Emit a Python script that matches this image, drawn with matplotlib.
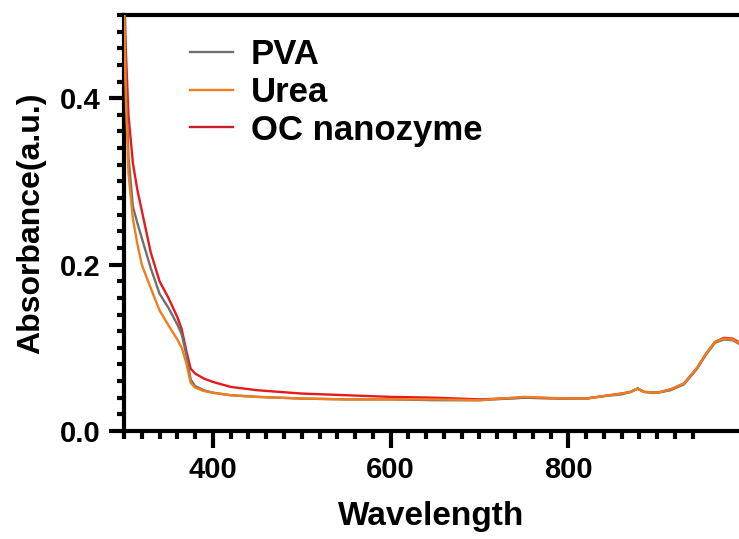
import matplotlib
matplotlib.use("Agg")
import matplotlib.pyplot as plt
from matplotlib.ticker import MultipleLocator, FixedLocator

plt.rcParams['font.family'] = ['Liberation Sans', 'DejaVu Sans']
plt.rcParams['font.weight'] = 'bold'

wavelength = [300, 302, 305, 310, 315, 320, 330, 340, 350, 360, 365, 370, 375, 380, 390,
              400, 420, 450, 500, 550, 600, 650, 700, 750, 800, 820, 840, 860, 870, 878,
              885, 900, 915, 930, 945, 955, 965, 975, 985, 995]

pva = [0.52, 0.42, 0.33, 0.27, 0.25, 0.232, 0.196, 0.165, 0.148, 0.128, 0.116, 0.092, 0.062, 0.054, 0.049,
       0.046, 0.043, 0.041, 0.039, 0.038, 0.038, 0.037, 0.037, 0.040, 0.039, 0.039, 0.042, 0.044, 0.047, 0.051,
       0.047, 0.046, 0.049, 0.056, 0.075, 0.092, 0.106, 0.110, 0.109, 0.103]

urea = [0.52, 0.40, 0.31, 0.255, 0.225, 0.200, 0.172, 0.145, 0.127, 0.110, 0.100, 0.082, 0.058, 0.052, 0.048,
        0.046, 0.043, 0.041, 0.039, 0.038, 0.038, 0.038, 0.037, 0.041, 0.039, 0.039, 0.042, 0.045, 0.047, 0.051,
        0.047, 0.046, 0.050, 0.057, 0.076, 0.093, 0.107, 0.111, 0.110, 0.104]

oc_nanozyme = [0.53, 0.46, 0.38, 0.322, 0.29, 0.265, 0.215, 0.180, 0.160, 0.137, 0.122, 0.097, 0.075, 0.069, 0.063,
               0.059, 0.053, 0.049, 0.045, 0.043, 0.041, 0.040, 0.038, 0.040, 0.039, 0.039, 0.042, 0.045, 0.047, 0.051,
               0.047, 0.046, 0.050, 0.057, 0.076, 0.093, 0.107, 0.112, 0.111, 0.105]

series_labels = ['PVA', 'Urea', 'OC nanozyme']
colors = ['#707070', '#f07d1e', '#e41a1c']
zorders = [3, 4, 2]

W, H = 739, 539
fig = plt.figure(figsize=(W / 100, H / 100), dpi=100)
ax = fig.add_axes([124 / W, (H - 431) / H, (W - 124) / W, (431 - 15) / H])

for y, lab, c, z in zip([pva, urea, oc_nanozyme], series_labels, colors, zorders):
    ax.plot(wavelength, y, color=c, lw=1.7, label=lab, zorder=z)

ax.set_xlim(300, 992)
ax.set_ylim(0, 0.5)

ax.set_xticks([400, 600, 800])
ax.xaxis.set_minor_locator(FixedLocator([x for x in range(300, 941, 20) if x % 200 != 0]))
ax.set_yticks([0.0, 0.2, 0.4])
ax.set_yticklabels(['0.0', '0.2', '0.4'])
ax.yaxis.set_minor_locator(MultipleLocator(0.02))

for s in ['left', 'bottom', 'top']:
    ax.spines[s].set_linewidth(3)
ax.spines['right'].set_visible(False)

ax.tick_params(which='major', length=11, width=3, labelsize=21, pad=6)
ax.tick_params(which='minor', length=5, width=3)
ax.tick_params(axis='x', which='minor', length=6)
ax.tick_params(axis='x', which='major', length=12)

ax.set_xlabel('Wavelength', fontsize=24, fontweight='bold', labelpad=12)
ax.set_ylabel('Absorbance(a.u.)', fontsize=23, fontweight='bold', labelpad=10)

leg = ax.legend(loc='upper left', bbox_to_anchor=(0.107, 0.945), frameon=False,
                fontsize=25, handlelength=1.25, handletextpad=0.5, labelspacing=0.14,
                borderpad=0, borderaxespad=0)
leg.get_lines()[2].set_color('#c8202a')

fig.savefig('out.png', dpi=100)
